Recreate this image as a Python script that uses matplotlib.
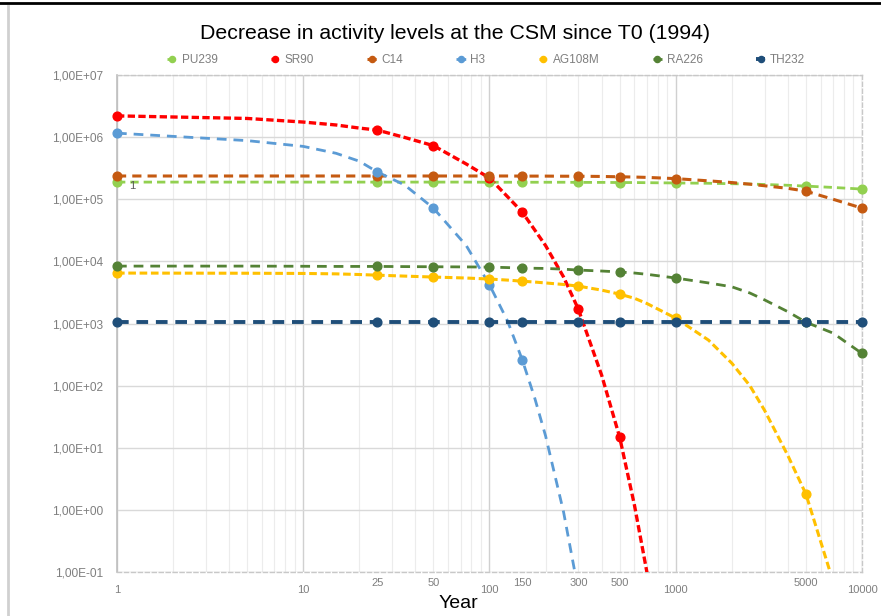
import numpy as np
import matplotlib
matplotlib.use("Agg")
import matplotlib.pyplot as plt
import matplotlib.ticker as mticker
import matplotlib.transforms as mtransforms
from matplotlib.lines import Line2D

plt.rcParams['font.family'] = ['Liberation Sans', 'DejaVu Sans']

# years along the curves; markers only sit on some of them
years = [1, 5, 10, 15, 20, 25, 35, 50, 75, 100, 125, 150, 175, 200, 250,
         300, 400, 500, 600, 700, 1000, 1500, 2000, 2500, 3000, 4000, 5000, 7000, 10000]
marker_years = [1, 25, 50, 100, 150, 300, 500, 1000, 5000, 10000]

nan = np.nan
pu239 = [1.89e5, 1.89e5, 1.89e5, 1.89e5, 1.89e5, 1.89e5, 1.89e5, 1.89e5, 1.89e5, 1.88e5,
         1.88e5, 1.88e5, 1.88e5, 1.88e5, 1.88e5, 1.87e5, 1.87e5, 1.86e5, 1.86e5, 1.85e5,
         1.83e5, 1.81e5, 1.78e5, 1.76e5, 1.73e5, 1.68e5, 1.63e5, 1.55e5, 1.46e5]
sr90 = [2.2e6, 2.0e6, 1.75e6, 1.57e6, 1.4e6, 1.3e6, 9.9e5, 7.3e5, 3.7e5, 2.2e5,
        1.1e5, 6.2e4, 3.2e4, 1.8e4, 5.6e3, 1.7e3, 148, 14.8, 1.2, 0.1,
        7e-5, nan, nan, nan, nan, nan, nan, nan, nan]
c14 = [2.37e5, 2.37e5, 2.37e5, 2.37e5, 2.37e5, 2.37e5, 2.37e5, 2.37e5, 2.37e5, 2.37e5,
       2.37e5, 2.36e5, 2.36e5, 2.36e5, 2.35e5, 2.35e5, 2.33e5, 2.3e5, 2.28e5, 2.25e5,
       2.15e5, 1.98e5, 1.86e5, 1.75e5, 1.65e5, 1.5e5, 1.35e5, 1.0e5, 7.2e4]
h3 = [1.16e6, 8.8e5, 7.1e5, 5.5e5, 4.1e5, 2.75e5, 1.7e5, 7.2e4, 1.8e4, 4.2e3,
      1.1e3, 260, 63, 15.6, 0.92, 0.05, nan, nan, nan, nan,
      nan, nan, nan, nan, nan, nan, nan, nan, nan]
ag108m = [6490, 6450, 6400, 6300, 6150, 6000, 5800, 5600, 5400, 5200,
          5000, 4800, 4650, 4500, 4250, 4000, 3450, 2970, 2550, 2100,
          1220, 540, 230, 100, 40, 7.5, 1.8, 0.07, 5e-4]
ra226 = [8400, 8400, 8350, 8300, 8300, 8300, 8250, 8200, 8150, 8100,
         7950, 7800, 7750, 7700, 7500, 7250, 7000, 6760, 6500, 6200,
         5400, 4500, 3900, 3100, 2400, 1550, 1050, 700, 330]
th232 = [1050, 1050, 1050, 1050, 1050, 1050, 1050, 1050, 1050, 1050,
         1050, 1050, 1050, 1050, 1050, 1050, 1050, 1050, 1050, 1050,
         1050, 1050, 1050, 1050, 1050, 1050, 1050, 1050, 1050]

series = [
    ('PU239', pu239, '#92D050', 2.0, (3, 1.8)),
    ('SR90', sr90, '#FF0000', 2.4, (2.2, 1.0)),
    ('C14', c14, '#C55A11', 2.2, (3, 2)),
    ('H3', h3, '#5B9BD5', 2.0, (3.5, 2.5)),
    ('AG108M', ag108m, '#FFC000', 2.2, (2.5, 1.2)),
    ('RA226', ra226, '#548235', 2.0, (3.5, 2.5)),
    ('TH232', th232, '#1F4E79', 2.8, (3, 2)),
]

y_min, y_max = 0.1, 1e7

fig = plt.figure(figsize=(8.81, 6.16), dpi=100)
ax = fig.add_axes([0.1328, 0.0714, 0.8456, 0.8068])

handles = []
for name, vals, col, lw, dash in series:
    ln, = ax.plot(years, vals, color=col, lw=lw, dashes=dash, zorder=3)
    mv = [vals[years.index(y)] for y in marker_years]
    mv = [v if v >= y_min else nan for v in mv]
    mk, = ax.plot(marker_years, mv, 'o', color=col, markersize=6.3, clip_on=False, zorder=4)
    handles.append((ln, mk))

ax.set_xscale('log')
ax.set_yscale('log')
ax.set_xlim(1, 10000)
ax.set_ylim(y_min, y_max)

ax.xaxis.set_major_locator(mticker.FixedLocator([1, 10, 100, 1000, 10000]))
ax.xaxis.set_major_formatter(mticker.FixedFormatter(['1', '10', '100', '1000', '10000']))
ax.xaxis.set_minor_locator(mticker.LogLocator(base=10, subs=np.arange(2, 10)))
ax.xaxis.set_minor_formatter(mticker.NullFormatter())
ax.yaxis.set_major_locator(mticker.FixedLocator(10.0 ** np.arange(-1, 8)))
ax.yaxis.set_minor_locator(mticker.NullLocator())
ax.yaxis.set_major_formatter(mticker.FuncFormatter(lambda v, p: f"{v:.2E}".replace('.', ',')))

ax.tick_params(axis='both', which='both', length=0, colors='#7f7f7f')
ax.tick_params(axis='x', which='major', pad=9, labelsize=8)
ax.tick_params(axis='y', pad=10, labelsize=8.6)

# in-between year labels sit a bit higher than the decade ones
trans = mtransforms.blended_transform_factory(ax.transData, ax.transAxes)
for v in [25, 50, 150, 300, 500, 5000]:
    ax.text(v, -0.012, str(v), transform=trans, ha='center', va='top',
            fontsize=8, color='#7f7f7f')

ax.set_axisbelow(True)
ax.grid(True, axis='x', which='major', color='#d0d0d0', lw=1.0)
ax.grid(True, axis='x', which='minor', color='#ececec', lw=0.8)
ax.grid(True, axis='y', which='major', color='#d9d9d9', lw=1.0)

ax.spines['left'].set_color('#bfbfbf')
ax.spines['left'].set_linewidth(1.2)
for s in ['bottom', 'top', 'right']:
    ax.spines[s].set_color('#c8c8c8')
    ax.spines[s].set_linestyle((0, (3, 2)))
    ax.spines[s].set_linewidth(1.0)

ax.annotate('1', xy=(1, pu239[0]), xytext=(11, -3), textcoords='offset points',
            ha='center', va='center', fontsize=8, color='#595959')

fig.text(0.516, 0.946, 'Decrease in activity levels at the CSM since T0 (1994)',
         ha='center', va='center', fontsize=15.3, color='black')
fig.text(0.52, 0.021, 'Year', ha='center', va='center', fontsize=14, color='black')

fig.legend(handles=handles, labels=[s[0] for s in series], loc='center',
           bbox_to_anchor=(0.552, 0.903), ncol=7, frameon=False, fontsize=8.5,
           handlelength=0.8, handletextpad=0.4, columnspacing=4.5,
           labelcolor='#7f7f7f', markerscale=0.7)

# outer frame bits
fig.add_artist(Line2D([0, 1], [0.995, 0.995], transform=fig.transFigure, color='black', lw=2))
fig.add_artist(Line2D([0.009, 0.009], [0, 0.99], transform=fig.transFigure, color='#d0d0d0', lw=2))

fig.savefig('out.png', dpi=100)
